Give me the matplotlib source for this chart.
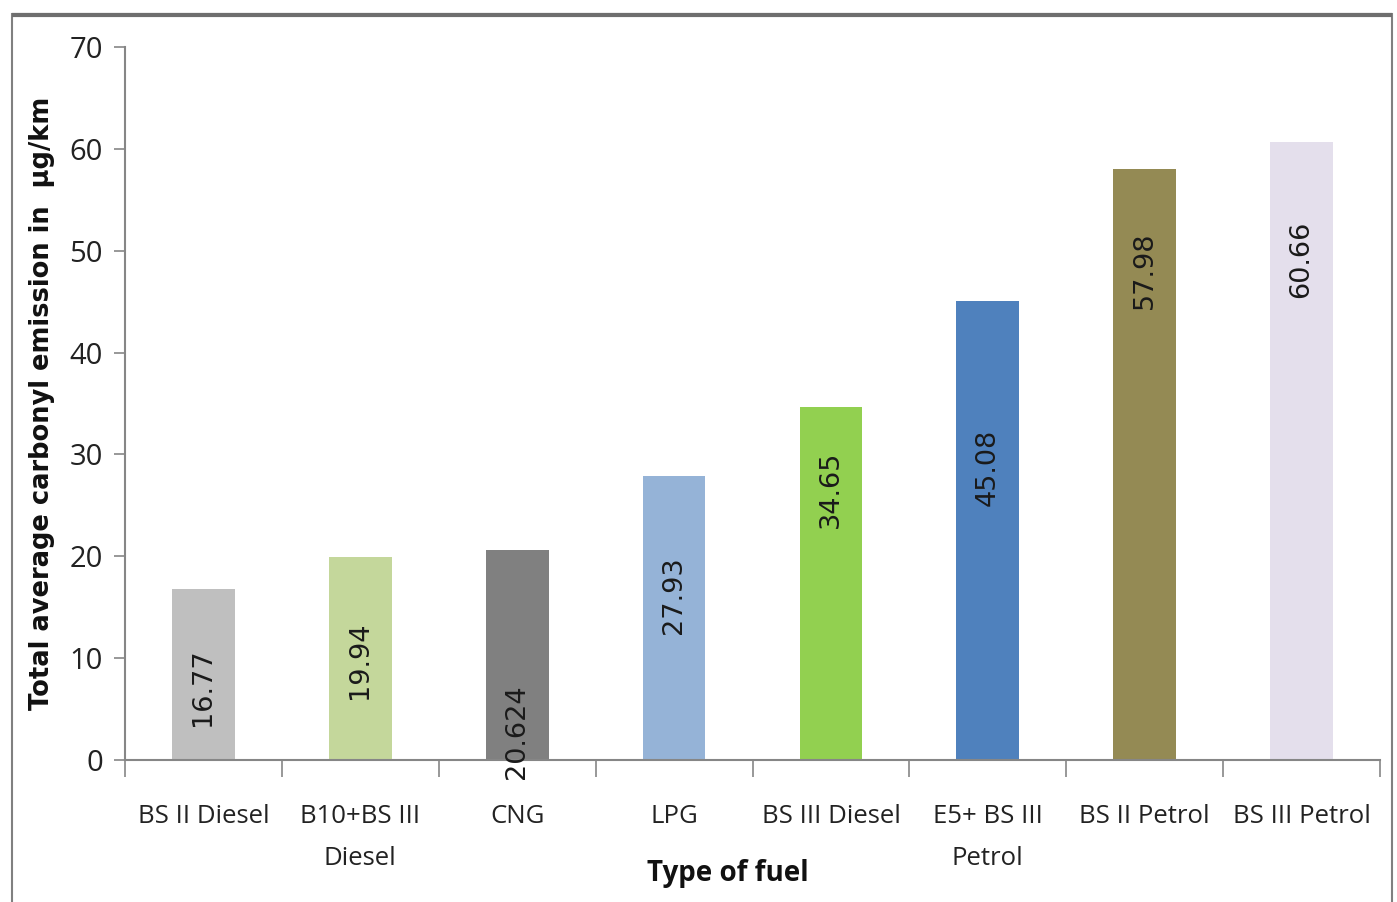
import matplotlib
matplotlib.use("Agg")
import matplotlib.pyplot as plt
from matplotlib.patches import Rectangle
import numpy as np

categories = ["BS II Diesel", "B10+BS III\nDiesel", "CNG", "LPG", "BS III Diesel",
              "E5+ BS III\nPetrol", "BS II Petrol", "BS III Petrol"]
values = [16.77, 19.94, 20.624, 27.93, 34.65, 45.08, 57.98, 60.66]
value_labels = ["16.77", "19.94", "20.624", "27.93", "34.65", "45.08", "57.98", "60.66"]
label_y = [7.2, 9.8, 2.8, 16.2, 26.6, 28.7, 48.1, 49.2]
colors = ["#BFBFBF", "#C4D79B", "#808080", "#95B3D7", "#92D050", "#4F81BD", "#948A54", "#E4DFEC"]
yticks = [0, 10, 20, 30, 40, 50, 60, 70]

narrow = "Open Sans"

fig = plt.figure(figsize=(13.97, 9.02), dpi=100)
fig.patches.append(Rectangle((12/1397, -0.01), (1392-12)/1397, (902-14)/902 + 0.01,
                             transform=fig.transFigure, fill=False,
                             edgecolor="#808080", linewidth=1.5))
fig.patches.append(Rectangle((12/1397, 1-15/902), (1392-12)/1397, 0,
                             transform=fig.transFigure, fill=False,
                             edgecolor="#6e6e6e", linewidth=3))

ax = fig.add_axes([125/1397, 142/902, (1380-125)/1397, (760-47)/902])
x = np.arange(len(categories))
ax.bar(x, values, width=0.4, color=colors, zorder=2)
for xi, t, ly in zip(x, value_labels, label_y):
    ax.text(xi, ly, t, rotation=90, ha="center", va="center", fontsize=19.5,
            family="DejaVu Sans", color="#1a1a1a", zorder=3)

ax.set_xlim(-0.5, len(categories) - 0.5)
ax.set_ylim(0, 70)
ax.set_yticks(yticks)
ax.set_yticklabels([str(v) for v in yticks], family=narrow, fontsize=21, color="#222222")
ax.set_xticks(x)
ax.set_xticklabels(categories, family=narrow, fontsize=18.5, color="#222222", linespacing=1.85)
ax.set_xticks(np.arange(len(categories) + 1) - 0.5, minor=True)
ax.tick_params(axis="x", which="major", length=0, pad=32)
ax.tick_params(axis="x", which="minor", length=12, color="#868686", width=1.2)
ax.tick_params(axis="y", length=8, color="#868686", width=1.2, pad=8)
for s in ["top", "right"]:
    ax.spines[s].set_visible(False)
for s in ["left", "bottom"]:
    ax.spines[s].set_color("#868686")
    ax.spines[s].set_linewidth(1.5)

ax.set_ylabel("Total average carbonyl emission in  µg/km", family="DejaVu Sans",
              fontweight="bold", fontsize=18.5, color="#111111", labelpad=10)
fig.text(728/1397, 1 - 873/902, "Type of fuel", family=narrow, fontweight="bold",
         fontsize=20, ha="center", va="center", color="#111111")

fig.savefig("out.png", dpi=100)
